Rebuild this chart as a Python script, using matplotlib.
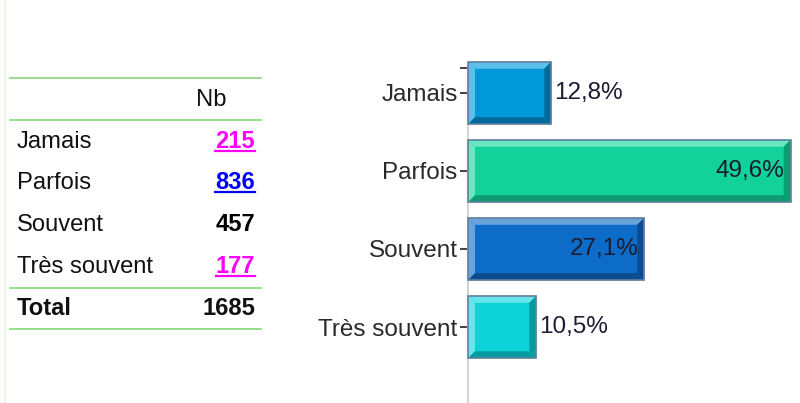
import matplotlib
matplotlib.use("Agg")
import matplotlib.pyplot as plt
from matplotlib.patches import Polygon
from matplotlib.lines import Line2D

plt.rcParams['font.family'] = ['Liberation Sans', 'DejaVu Sans']

# -------------------
# Data
# -------------------
categories = ['Jamais', 'Parfois', 'Souvent', 'Très souvent']
counts = [215, 836, 457, 177]
total = 1685
percents = [12.8, 49.6, 27.1, 10.5]
pct_labels = ['12,8%', '49,6%', '27,1%', '10,5%']
count_colors = ['#ff00ff', '#0000ff', '#000000', '#ff00ff']
count_underline = [True, True, False, True]

# bar colours: face, light bevel, dark bevel
face_colors = ['#0099d8', '#12d29a', '#0d6cc8', '#0bd3d8']
light_colors = ['#5cc0ea', '#6ae6c0', '#6aa2dc', '#66e6ea']
dark_colors = ['#006a9a', '#0e9a72', '#0a4c8e', '#079a9e']

W, H = 800, 403
fig = plt.figure(figsize=(W / 100, H / 100), dpi=100)


def fy(py):
    # pixel row (from top) -> figure fraction
    return 1 - py / H


# -------------------
# Table on the left
# -------------------
green = '#86d97a'
fig.add_artist(Line2D([4.5 / W, 4.5 / W], [0, 1], color='#e8f5e2', lw=1.2))
for py in [77.5, 119.5, 287.5, 328.5]:
    fig.add_artist(Line2D([10 / W, 261 / W], [fy(py), fy(py)], color=green, lw=1.2))

fs = 17.1
fig.text(211 / W, fy(105.5), 'Nb', ha='center', va='baseline', fontsize=fs, color='#111111')

baselines = [147.5, 189.3, 231.2, 273.2]
value_texts = []
for i, cat in enumerate(categories):
    fig.text(17 / W, fy(baselines[i]), cat, ha='left', va='baseline', fontsize=fs, color='#111111')
    t = fig.text(255 / W, fy(baselines[i]), str(counts[i]), ha='right', va='baseline',
                 fontsize=fs, fontweight='bold', color=count_colors[i])
    value_texts.append(t)
fig.text(17 / W, fy(315), 'Total', ha='left', va='baseline', fontsize=fs, fontweight='bold', color='#111111')
fig.text(255 / W, fy(315), str(total), ha='right', va='baseline', fontsize=fs, fontweight='bold', color='#111111')

# -------------------
# Bar chart on the right
# -------------------
ax_left, ax_top = 468, 68
ax = fig.add_axes([ax_left / W, 0, (W - ax_left) / W, (H - ax_top) / H])
xmax = 49.6 * (W - ax_left) / 322.7
ylo, yhi = -0.32, 3.974
ax.set_xlim(0, xmax)
ax.set_ylim(yhi, ylo)

ypos = list(range(len(categories)))
bar_h = 0.8
ax.barh(ypos, percents, height=bar_h, color=face_colors, zorder=2, clip_on=False)

# bevel size in data units (~7 px)
bx = 7 * xmax / (W - ax_left)
by = 7 * (yhi - ylo) / (H - ax_top)
for y, v, lc, dc in zip(ypos, percents, light_colors, dark_colors):
    t, b = y - bar_h / 2, y + bar_h / 2
    bevels = [
        ([(0, t), (v, t), (v - bx, t + by), (bx, t + by)], lc),
        ([(0, t), (bx, t + by), (bx, b - by), (0, b)], lc),
        ([(v, t), (v, b), (v - bx, b - by), (v - bx, t + by)], dc),
        ([(0, b), (v, b), (v - bx, b - by), (bx, b - by)], dc),
    ]
    for pts, c in bevels:
        ax.add_patch(Polygon(pts, closed=True, fc=c, ec='none', zorder=3, clip_on=False))
ax.barh(ypos, percents, height=bar_h, fill=False, edgecolor='#62809e', lw=1.2, zorder=4, clip_on=False)

# percentage labels
for y, v, lab in zip(ypos, percents, pct_labels):
    if v > 20:
        ax.annotate(lab, (v, y), xytext=(-6, 0), textcoords='offset pixels',
                    ha='right', va='center', fontsize=17.5, color='#1c1c30', zorder=5)
    else:
        ax.annotate(lab, (v, y), xytext=(3, 0), textcoords='offset pixels',
                    ha='left', va='center', fontsize=17.5, color='#1c1c30', zorder=5)

for s in ['top', 'right', 'bottom']:
    ax.spines[s].set_visible(False)
ax.spines['left'].set_color('#d4d4d4')
ax.spines['left'].set_linewidth(1.5)
ax.set_xticks([])
ax.set_yticks([ylo + 0.005] + ypos)
ax.set_yticklabels([''] + categories, fontsize=17.5, color='#2a2a2a')
ax.tick_params(axis='y', length=6, width=1.3, color='#333333', pad=1.5)
ax.patch.set_alpha(0)

# underline the linked counts
fig.canvas.draw()
renderer = fig.canvas.get_renderer()
for t, i, u in zip(value_texts, range(len(counts)), count_underline):
    if not u:
        continue
    bb = t.get_window_extent(renderer)
    uy = fy(baselines[i] + 3)
    fig.add_artist(Line2D([bb.x0 / W, bb.x1 / W], [uy, uy], color=count_colors[i], lw=1.6))

fig.savefig('out.png', dpi=100)
